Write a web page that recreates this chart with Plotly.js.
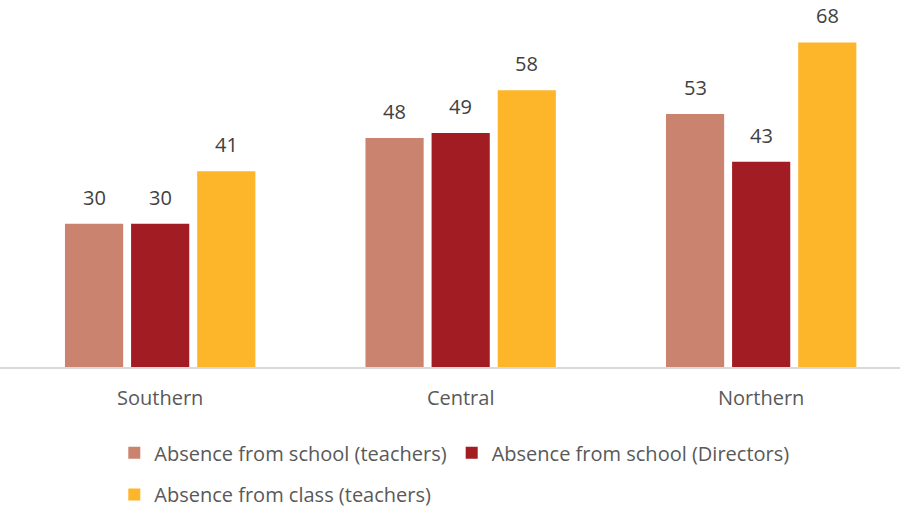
<!DOCTYPE html>
<html><head><meta charset="utf-8">
<script src="https://cdn.plot.ly/plotly-3.0.1.min.js"></script>
<style>body{margin:0;background:#fff}#c{width:900px;height:514px}</style>
</head><body><div id="c"></div>
<script>
const categories = ["Southern", "Central", "Northern"];
const seriesNames = ["Absence from school (teachers)", "Absence from school (Directors)", "Absence from class (teachers)"];
const teachersSchool = [30, 48, 53];
const directorsSchool = [30, 49, 43];
const teachersClass = [41, 58, 68];
const colors = ["#C9836F", "#A21C23", "#FDB62A"];
const legendIds = ["legend", "legend", "legend2"];

const allSeries = [teachersSchool, directorsSchool, teachersClass];
const traces = allSeries.map((vals, i) => ({
  type: "bar", x: categories, y: vals, name: seriesNames[i], legend: legendIds[i],
  marker: {color: colors[i]}, hoverinfo: "skip"
}));
const shifts = [-66, 0, 66];
const annotations = [];
allSeries.forEach((vals, i) => vals.forEach((v, j) => {
  annotations.push({x: categories[j], y: v, xref: "x", yref: "y", text: String(v),
    showarrow: false, xshift: shifts[i], yshift: 11, yanchor: "bottom",
    font: {family: "Open Sans, sans-serif", size: 20, color: "#404040"}});
}));
const legFont = {family: "Open Sans, sans-serif", size: 20, color: "#595959"};

Plotly.newPlot("c", traces, {
  width: 900, height: 514,
  margin: {l: 0, r: 0, t: 8.5, b: 147},
  paper_bgcolor: "#fff", plot_bgcolor: "#fff",
  barmode: "group", bargap: 0.34, bargroupgap: 0.12,
  xaxis: {range: [-0.533, 2.462], showline: true, linecolor: "#d9d9d9", linewidth: 1.5,
    ticks: "", ticklabelstandoff: 12,
    tickfont: {family: "Open Sans, sans-serif", size: 20, color: "#595959"}, fixedrange: true},
  yaxis: {range: [0, 75], visible: false, showgrid: false, zeroline: false, fixedrange: true},
  showlegend: true,
  legend: {orientation: "h", x: 0.127, xanchor: "left", y: -0.185, yanchor: "top",
    font: legFont, itemwidth: 30},
  legend2: {orientation: "h", x: 0.127, xanchor: "left", y: -0.302, yanchor: "top",
    font: legFont, itemwidth: 30},
  annotations: annotations
}, {staticPlot: true});
</script></body></html>
